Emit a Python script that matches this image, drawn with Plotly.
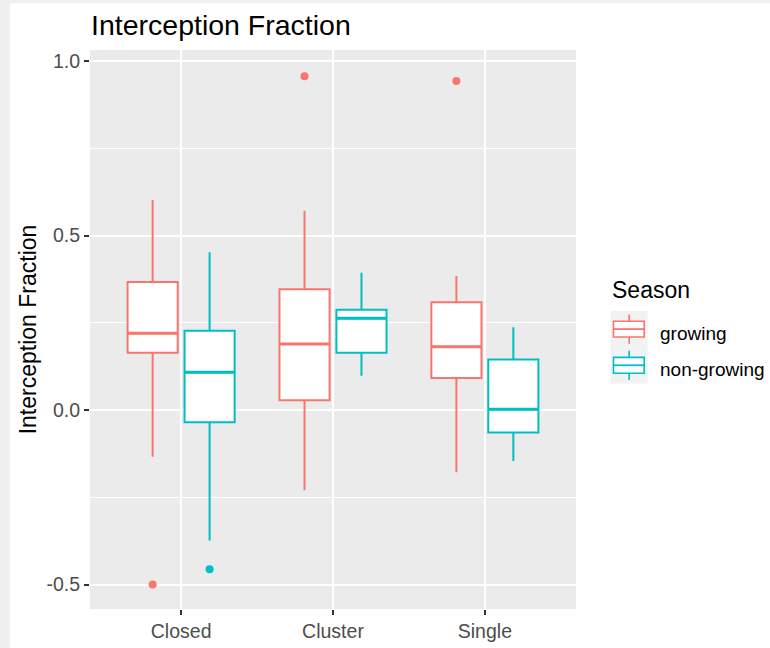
import plotly.graph_objects as go

# ---- data ----
categories = ["Closed", "Cluster", "Single"]
seasons = ["growing", "non-growing"]

growing_lower = [-0.134, -0.229, -0.178]
growing_q1 = [0.164, 0.028, 0.092]
growing_median = [0.220, 0.189, 0.181]
growing_q3 = [0.367, 0.346, 0.309]
growing_upper = [0.602, 0.571, 0.384]
growing_outlier_cat = ["Closed", "Cluster", "Single"]
growing_outlier_val = [-0.500, 0.956, 0.943]

nongrowing_lower = [-0.374, 0.098, -0.146]
nongrowing_q1 = [-0.035, 0.164, -0.064]
nongrowing_median = [0.108, 0.263, 0.002]
nongrowing_q3 = [0.227, 0.287, 0.145]
nongrowing_upper = [0.452, 0.393, 0.237]
nongrowing_outlier_cat = ["Closed"]
nongrowing_outlier_val = [-0.456]

y_tick_vals = [-0.5, 0.0, 0.5, 1.0]
y_tick_text = ["-0.5", "0.0", "0.5", "1.0"]

# ---- style ----
colors = {"growing": "#F8766D", "non-growing": "#00BFC4"}
dodge = 0.1875
box_w = 0.33
FONT = "Liberation Sans, Arial, sans-serif"

cat_pos = {c: i + 1 for i, c in enumerate(categories)}

fig = go.Figure()

series = {
    "growing": (growing_lower, growing_q1, growing_median, growing_q3, growing_upper,
                growing_outlier_cat, growing_outlier_val, -dodge),
    "non-growing": (nongrowing_lower, nongrowing_q1, nongrowing_median, nongrowing_q3,
                    nongrowing_upper, nongrowing_outlier_cat, nongrowing_outlier_val, dodge),
}

for name, (lo, q1, med, q3, hi, ocat, oval, off) in series.items():
    xs = [cat_pos[c] + off for c in categories]
    col = colors[name]
    fig.add_trace(go.Box(
        name=name, legendgroup=name, x=xs,
        lowerfence=lo, q1=q1, median=med, q3=q3, upperfence=hi,
        width=box_w, whiskerwidth=0,
        fillcolor="white", line=dict(color=col, width=2),
        boxpoints=False, showlegend=False, hoverinfo="y",
    ))
    # thicker median line (ggplot fatten)
    mx, my = [], []
    for x, m in zip(xs, med):
        mx += [x - box_w / 2, x + box_w / 2, None]
        my += [m, m, None]
    fig.add_trace(go.Scatter(x=mx, y=my, mode="lines", line=dict(color=col, width=3),
                             showlegend=False, hoverinfo="skip", legendgroup=name))
    fig.add_trace(go.Scatter(
        x=[cat_pos[c] + off for c in ocat], y=oval, mode="markers",
        marker=dict(color=col, size=8), showlegend=False, legendgroup=name,
    ))

W, H = 770, 648
L, R, T, B = 90, 194, 50, 39
pw, ph = W - L - R, H - T - B

def px_x(p):
    return (p - L) / pw

def px_y(p):
    return (H - B - p) / ph

shapes = []
# light gray frame strips (screenshot border)
shapes.append(dict(type="rect", xref="paper", yref="paper", x0=px_x(0), x1=px_x(10),
                   y0=px_y(H), y1=px_y(0), fillcolor="#F0F0F0", line_width=0, layer="below"))
shapes.append(dict(type="rect", xref="paper", yref="paper", x0=px_x(0), x1=px_x(W),
                   y0=px_y(3), y1=px_y(0), fillcolor="#F0F0F0", line_width=0, layer="below"))

# ---- hand-drawn ggplot-style legend ----
annotations = [dict(text="Season", xref="paper", yref="paper", x=px_x(610), y=px_y(290),
                    xanchor="left", yanchor="middle", showarrow=False,
                    font=dict(size=23, color="black", family=FONT))]
key_left, key_right = 610.7, 647.7
key_top, key_h = 311.0, 36.2
for i, name in enumerate(seasons):
    col = colors[name]
    t0 = key_top + i * key_h
    cx = (key_left + key_right) / 2
    shapes.append(dict(type="rect", xref="paper", yref="paper",
                       x0=px_x(key_left), x1=px_x(key_right), y0=px_y(t0 + key_h), y1=px_y(t0),
                       fillcolor="#F2F2F2", line_width=0))
    # whisker
    shapes.append(dict(type="line", xref="paper", yref="paper", x0=px_x(cx), x1=px_x(cx),
                       y0=px_y(t0 + 3.5), y1=px_y(t0 + key_h - 3.5),
                       line=dict(color=col, width=1.6)))
    # box
    shapes.append(dict(type="rect", xref="paper", yref="paper",
                       x0=px_x(key_left + 2.8), x1=px_x(key_right - 3.5),
                       y0=px_y(t0 + 10.2), y1=px_y(t0 + 26),
                       fillcolor="white", line=dict(color=col, width=1.6)))
    # median
    shapes.append(dict(type="line", xref="paper", yref="paper",
                       x0=px_x(key_left + 2.8), x1=px_x(key_right - 3.5),
                       y0=px_y(t0 + 18.1), y1=px_y(t0 + 18.1),
                       line=dict(color=col, width=1.8)))
    annotations.append(dict(text=name, xref="paper", yref="paper",
                            x=px_x(658), y=px_y(t0 + key_h / 2 + 4), xanchor="left",
                            yanchor="middle", showarrow=False,
                            font=dict(size=19, color="black", family=FONT)))

fig.update_layout(
    width=W, height=H,
    margin=dict(l=L, r=R, t=T, b=B, pad=0),
    paper_bgcolor="white", plot_bgcolor="#EBEBEB",
    boxmode="overlay", showlegend=False,
    font=dict(family=FONT, color="black"),
    title=dict(text="Interception Fraction", font=dict(size=28.5, color="black", family=FONT),
               x=px_x(91), xref="paper", xanchor="left",
               y=1 - 25 / H, yref="container", yanchor="middle"),
    shapes=shapes, annotations=annotations,
    xaxis=dict(
        range=[0.4, 3.6], tickvals=[1, 2, 3], ticktext=categories, automargin=False,
        showgrid=True, gridcolor="white", gridwidth=2, zeroline=False,
        ticks="outside", ticklen=5, tickcolor="#333333", tickwidth=1.5,
        tickfont=dict(size=19.5, color="#4D4D4D"), showline=False,
    ),
    yaxis=dict(
        range=[-0.570, 1.0315], tickvals=y_tick_vals, ticktext=y_tick_text, automargin=False,
        showgrid=True, gridcolor="white", gridwidth=2, zeroline=False,
        ticks="outside", ticklen=5, tickcolor="#333333", tickwidth=1.5,
        tickfont=dict(size=19.5, color="#4D4D4D"), showline=False,
        minor=dict(tickvals=[-0.25, 0.25, 0.75], showgrid=True, gridcolor="white",
                   gridwidth=1.2, ticks=""),
        title=dict(text="Interception Fraction", font=dict(size=23, color="black"), standoff=3),
    ),
)

fig.write_html("out.html")
